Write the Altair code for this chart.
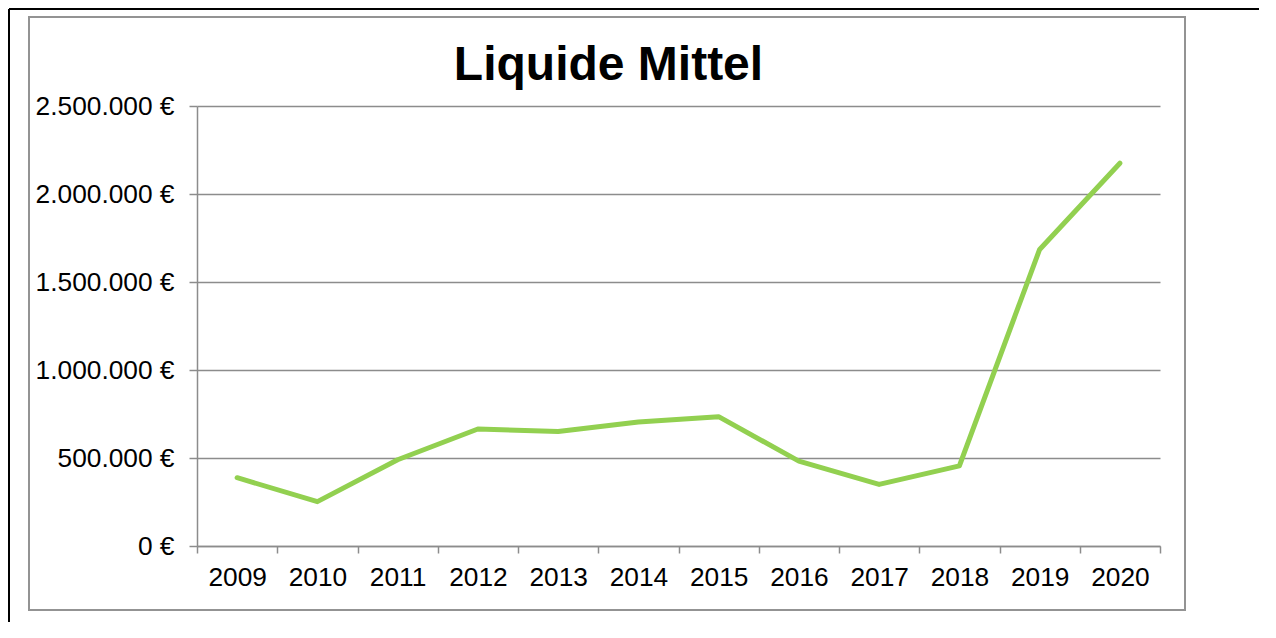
import altair as alt
import pandas as pd

years = [2009, 2010, 2011, 2012, 2013, 2014, 2015, 2016, 2017, 2018, 2019, 2020]
liquide_mittel = [388000, 252000, 490000, 665000, 650000, 705000, 735000,
                  482000, 350000, 455000, 1685000, 2175000]
y_ticks = [0, 500000, 1000000, 1500000, 2000000, 2500000]
title_text = "Liquide Mittel"

df = pd.DataFrame({"Jahr": [str(y) for y in years], "Wert": liquide_mittel})

FONT = "Liberation Sans"
GRID = "#8c8c8c"

line = alt.Chart(df).mark_line(
    color="#92D050", strokeWidth=5, strokeCap="round", strokeJoin="round"
).encode(
    x=alt.X(
        "Jahr:O",
        sort=[str(y) for y in years],
        bandPosition=0.5,
        scale=alt.Scale(type="band", paddingInner=0, paddingOuter=0),
        axis=alt.Axis(
            title=None, labelAngle=0, tickBand="extent", tickSize=7,
            tickColor=GRID, domainColor=GRID, tickWidth=1.5, domainWidth=1.5,
            labelFont=FONT, labelFontSize=26.3, labelColor="black",
            labelPadding=11, grid=False,
        ),
    ),
    y=alt.Y(
        "Wert:Q",
        scale=alt.Scale(domain=[0, 2500000], nice=False),
        axis=alt.Axis(
            title=None, values=y_ticks, tickSize=8, tickColor=GRID,
            domainColor=GRID, tickWidth=1.5, domainWidth=1.5,
            gridColor=GRID, gridWidth=1.5,
            labelFont=FONT, labelFontSize=26.3, labelColor="black",
            labelPadding=15,
            labelExpr="replace(replace(format(datum.value, ','), ',', '.'), ',', '.') + ' €'",
        ),
    ),
)

one = alt.Data(values=[{"a": 1}])

gray_frame = alt.Chart(one).mark_rect(
    fill="transparent", stroke="#939393", strokeWidth=2
).encode(
    x=alt.value(-168), x2=alt.value(988), y=alt.value(-89), y2=alt.value(504)
)

black_top = alt.Chart(one).mark_rule(color="black", strokeWidth=2).encode(
    x=alt.value(-188), x2=alt.value(1062), y=alt.value(-97)
)
black_left = alt.Chart(one).mark_rule(color="black", strokeWidth=2).encode(
    x=alt.value(-188), y=alt.value(-97), y2=alt.value(516)
)

title = alt.Chart(one).mark_text(
    text=title_text, font=FONT, fontSize=48, fontWeight="bold",
    align="center", baseline="alphabetic", color="black"
).encode(x=alt.value(411.5), y=alt.value(-26))

chart = alt.layer(line, gray_frame, black_top, black_left, title).properties(
    width=963, height=440,
    background="white",
    autosize=alt.AutoSizeParams(type="none"),
    padding={"left": 189, "top": 98, "right": 100, "bottom": 76},
).configure_view(stroke="transparent", strokeWidth=0)

chart.save("out.html", embed_options={"renderer": "svg", "actions": False})
